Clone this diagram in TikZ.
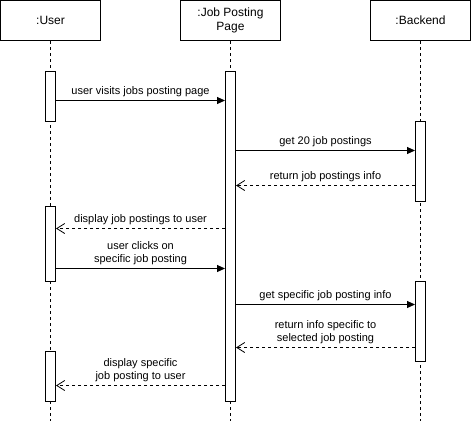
\documentclass[tikz,border=0pt]{standalone}
\usepackage{fontspec}
\setmainfont{Liberation Sans}
\usetikzlibrary{arrows.meta}
\begin{document}
\begin{tikzpicture}[x=1pt,y=-1pt,line width=1pt,
  head/.style={draw, fill=white, minimum width=100pt, minimum height=40pt, inner sep=0pt, align=center, font=\fontsize{12}{14}\selectfont},
  act/.style={draw, fill=white, minimum width=10pt, inner sep=0pt, anchor=north},
  life/.style={dash pattern=on 3pt off 3pt},
  msg/.style={-{Triangle[length=8pt,width=7pt]}},
  ret/.style={dash pattern=on 3pt off 3pt, -{Straight Barb[length=8pt,width=10pt,line width=0.8pt]}},
  lbl/.style={align=center, inner sep=0pt, font=\fontsize{11}{12.5}\selectfont},
  one/.style={lbl, yshift=9pt},
  two/.style={lbl, yshift=15.5pt}]
\useasboundingbox (0,0) rectangle (471,421);
% headers
\node[head] (user) at (50.5,20.5) {:User};
\node[head] (page) at (230.5,20.5) {:Job Posting\\Page};
\node[head] (back) at (420.5,20.5) {:Backend};
% lifeline ends
\coordinate (userEnd) at (50.5,421);
\coordinate (pageEnd) at (230.5,421);
\coordinate (backEnd) at (420.5,421);
\draw[life] (user.south) -- (userEnd);
\draw[life] (page.south) -- (pageEnd);
\draw[life] (back.south) -- (backEnd);
% activations
\node[act, minimum height=50pt] (ua1) at (50.5,70.5) {};
\node[act, minimum height=75pt] (ua2) at (50.5,205.5) {};
\node[act, minimum height=50pt] (ua3) at (50.5,350.5) {};
\node[act, minimum height=330pt] (pa) at (230.5,70.5) {};
\node[act, minimum height=80pt] (ba1) at (420.5,120.5) {};
\node[act, minimum height=80pt] (ba2) at (420.5,280.5) {};
% messages
\draw[msg] (ua1.east |- 0,100.5) -- node[one] {user visits jobs posting page} (pa.west |- 0,100.5);
\draw[msg] (pa.east |- 0,150.5) -- node[one] {get 20 job postings} (ba1.west |- 0,150.5);
\draw[ret] (ba1.west |- 0,185.5) -- node[one] {return job postings info} (pa.east |- 0,185.5);
\draw[ret] (pa.west |- 0,228.5) -- node[one] {display job postings to user} (ua2.east |- 0,228.5);
\draw[msg] (ua2.east |- 0,268.5) -- node[two] {user clicks on\\specific job posting} (pa.west |- 0,268.5);
\draw[msg] (pa.east |- 0,304.5) -- node[one] {get specific job posting info} (ba2.west |- 0,304.5);
\draw[ret] (ba2.west |- 0,347.5) -- node[two] {return info specific to\\selected job posting} (pa.east |- 0,347.5);
\draw[ret] (pa.west |- 0,385.5) -- node[two] {display specific\\job posting to user} (ua3.east |- 0,385.5);
\end{tikzpicture}
\end{document}
